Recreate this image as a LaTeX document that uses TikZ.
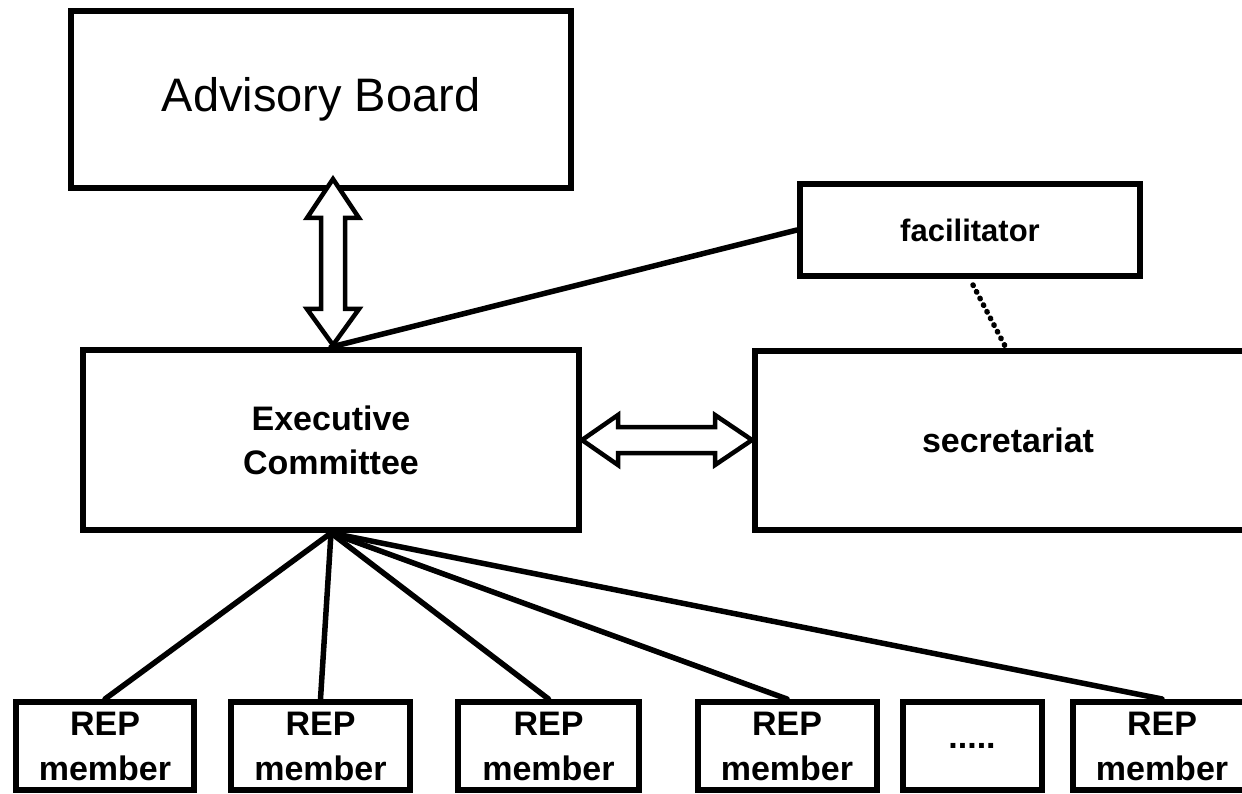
\documentclass[tikz,border=0pt]{standalone}
\usepackage{fontspec}
\setmainfont{Liberation Sans}
\usetikzlibrary{calc}
\begin{document}
\begin{tikzpicture}[x=1pt,y=-1pt,
  box/.style={draw, line width=6pt, inner sep=0pt, align=center},
  bigtext/.style={font=\fontsize{47}{56}\selectfont},
  boldtext/.style={font=\fontsize{34}{44}\selectfont\bfseries},
  reptext/.style={font=\fontsize{34}{45}\selectfont\bfseries},
  repbox/.style={box, reptext, minimum width=179pt, minimum height=88pt},
  link/.style={line width=5.5pt, line cap=round},
  dotline/.style={line width=5.5pt, line cap=round, dash pattern=on 0.5pt off 7pt},
  dbl/.style={draw, line width=4.5pt, fill=white, line join=miter}]
\useasboundingbox (0,0) rectangle (1242,794);

% main boxes
\node[box, bigtext, minimum width=500pt, minimum height=177pt] (adv) at (321,99.5) {Advisory Board};
\node[box, font=\fontsize{31}{36}\selectfont\bfseries, minimum width=340pt, minimum height=92pt] (fac) at (970,230) {facilitator};
\node[box, boldtext, minimum width=496pt, minimum height=180pt] (exec) at (331,440) {Executive\\Committee};
\node[box, boldtext, minimum width=506pt, minimum height=179pt] (sec) at (1008,440.5) {secretariat};

% REP boxes
\node[repbox, minimum width=178pt] (r1) at (105,746) {REP\\member};
\node[repbox] (r2) at (320.5,746) {REP\\member};
\node[repbox, minimum width=181pt] (r3) at (548.5,746) {REP\\member};
\node[repbox] (r4) at (787,746) {REP\\member};
\node[repbox, minimum width=139pt] (r5) at (972,746) {.....};
\node[repbox] (r6) at (1162,746) {REP\\member};

% connectors
\draw[link] (exec.north) -- (fac.west);
\draw[dotline] ($(fac.south)+(3,6)$) -- ($(sec.north)+(-3,-2)$);
\foreach \r in {r1,r2,r3,r4,r6}
  \draw[link] (exec.south) -- (\r.north);

% vertical double arrow between Advisory Board and Executive Committee
\coordinate (vt) at ($(adv.south)+(12,-12)$);
\coordinate (vb) at ($(exec.north)+(2,-2)$);
\draw[dbl] (vt) -- ++(26,39) -- ++(-14,0) -- ($(vb)+(12,-36)$) -- ++(14,0) -- (vb)
  -- ++(-26,-36) -- ++(14,0) -- ($(vt)+(-12,39)$) -- ++(-14,0) -- cycle;

% horizontal double arrow between Executive Committee and secretariat
\coordinate (hl) at ($(exec.east)+(0,0)$);
\coordinate (hr) at ($(sec.west)+(0,-0.5)$);
\draw[dbl] (hl) -- ++(36,-25) -- ++(0,12) -- ($(hr)+(-37,-13)$) -- ++(0,-12) -- (hr)
  -- ++(-37,25) -- ++(0,-12) -- ($(hl)+(36,13)$) -- ++(0,12) -- cycle;
\end{tikzpicture}
\end{document}
